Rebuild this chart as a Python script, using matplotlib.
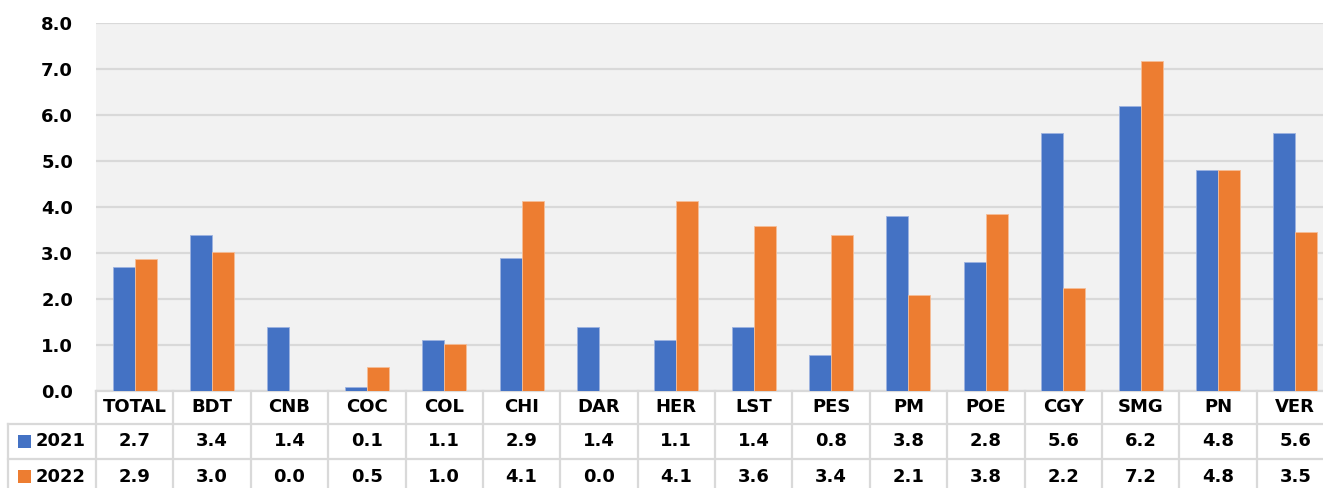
import matplotlib
matplotlib.use("Agg")
import matplotlib.pyplot as plt
import matplotlib.transforms as mtransforms
from matplotlib.patches import Rectangle
import numpy as np

categories = ["TOTAL", "BDT", "CNB", "COC", "COL", "CHI", "DAR", "HER",
              "LST", "PES", "PM", "POE", "CGY", "SMG", "PN", "VER"]
values_2021 = [2.7, 3.4, 1.4, 0.08, 1.1, 2.9, 1.4, 1.1,
               1.4, 0.78, 3.8, 2.8, 5.6, 6.2, 4.8, 5.6]
values_2022 = [2.86, 3.02, 0.0, 0.53, 1.03, 4.14, 0.0, 4.14,
               3.58, 3.4, 2.08, 3.84, 2.24, 7.18, 4.8, 3.46]
series_names = ["2021", "2022"]
colors = ["#4472C4", "#ED7D31"]

W, H = 1323, 488
fig = plt.figure(figsize=(W / 100, H / 100), dpi=100)
fig.patch.set_facecolor("white")

# pixel helpers
def fx(px):
    return px / W

def fy(py):
    return 1 - py / H

ax_left, ax_right, ax_top, ax_bottom = 96, 1334, 23, 391
ax = fig.add_axes([fx(ax_left), fy(ax_bottom), fx(ax_right - ax_left), (ax_bottom - ax_top) / H])
ax.set_facecolor("#F2F2F2")

x = np.arange(len(categories))
bw = 0.285
ax.bar(x - bw / 2, values_2021, bw, color=colors[0], edgecolor="#9DB3E0", linewidth=0.6, zorder=3)
ax.bar(x + bw / 2, values_2022, bw, color=colors[1], edgecolor="#F6BE98", linewidth=0.6, zorder=3)

ax.set_xlim(-0.5, len(categories) - 0.5)
ax.set_ylim(0, 8)
ax.set_yticks(np.arange(0, 9, 1))
ax.set_yticklabels([f"{v:.1f}" for v in np.arange(0, 9, 1)], fontsize=13, fontweight="bold")
ax.tick_params(axis="y", length=0, pad=16.5)
ax.set_xticks([])
ax.grid(axis="y", color="#D9D9D9", linewidth=1.6, zorder=0)
for s in ["left", "right", "top"]:
    ax.spines[s].set_visible(False)
ax.spines["bottom"].set_color("#D9D9D9")
ax.spines["bottom"].set_linewidth(1.6)

# data table under the chart
tr = mtransforms.blended_transform_factory(ax.transData, fig.transFigure)
line_kw = dict(color="#D9D9D9", linewidth=1.6)
rows_y = [391, 424, 459, 494]

for i in range(len(categories) + 1):
    ax.plot([i - 0.5, i - 0.5], [fy(rows_y[0]), fy(rows_y[-1])], transform=tr, clip_on=False, **line_kw)
for yy in rows_y[1:3]:
    fig.add_artist(plt.Line2D([fx(8), fx(ax_right)], [fy(yy), fy(yy)], **line_kw))
fig.add_artist(plt.Line2D([fx(8), fx(8)], [fy(424), fy(494)], **line_kw))

text_kw = dict(fontsize=13, fontweight="bold", ha="center", va="center", color="black")
for i, cat in enumerate(categories):
    ax.text(i, fy((rows_y[0] + rows_y[1]) / 2), cat, transform=tr, clip_on=False, **text_kw)
    ax.text(i, fy((rows_y[1] + rows_y[2]) / 2), f"{values_2021[i]:.1f}", transform=tr, clip_on=False, **text_kw)
    ax.text(i, fy((rows_y[2] + rows_y[3]) / 2), f"{values_2022[i]:.1f}", transform=tr, clip_on=False, **text_kw)

for r, (name, col) in enumerate(zip(series_names, colors)):
    yc = (rows_y[r + 1] + rows_y[r + 2]) / 2
    fig.add_artist(Rectangle((fx(18), fy(yc + 6.5)), fx(13), 13 / H, facecolor=col, edgecolor="none"))
    fig.text(fx(36), fy(yc), name, fontsize=13, fontweight="bold", ha="left", va="center")

fig.savefig("out.png", dpi=100)
